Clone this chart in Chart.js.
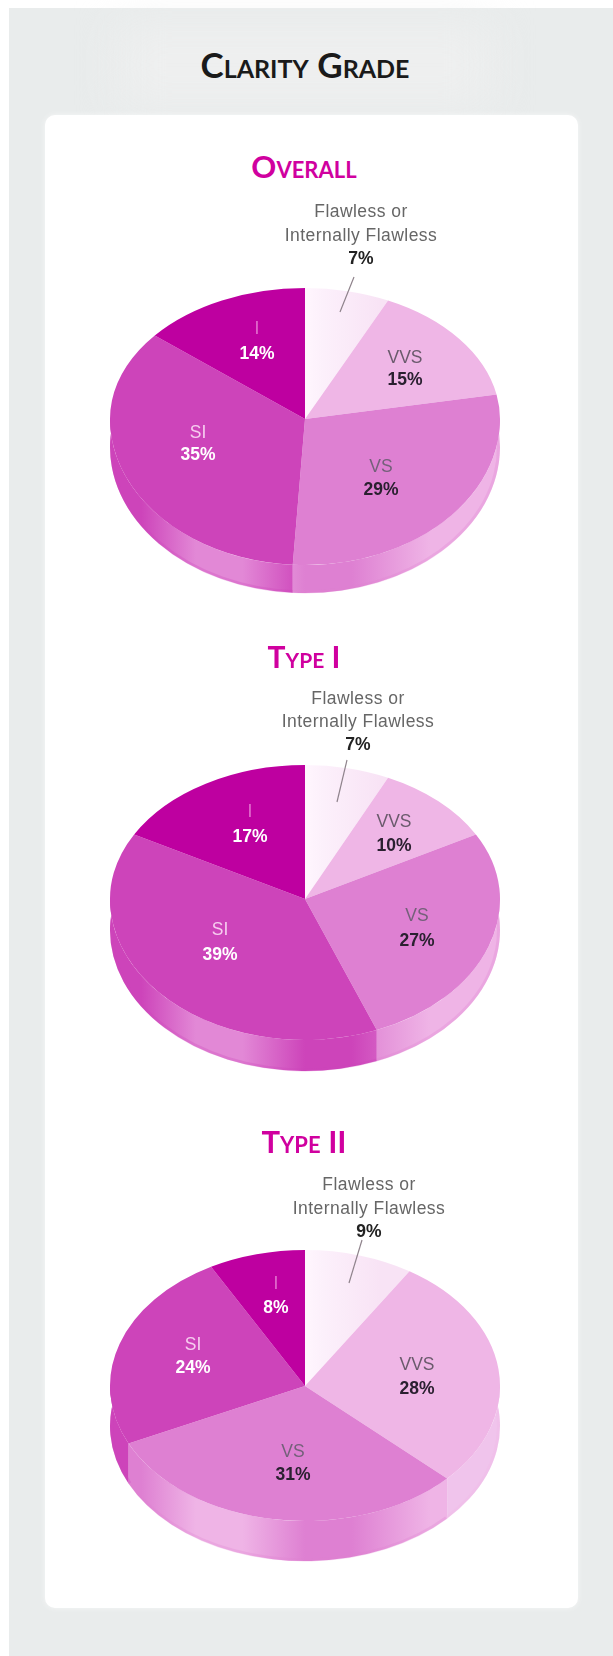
<!DOCTYPE html>
<html><head><meta charset="utf-8">
<script src="https://cdn.jsdelivr.net/npm/chart.js@4/dist/chart.umd.min.js"></script>
<style>
html,body{margin:0;padding:0;background:#fff;}
#page{position:relative;width:613px;height:1656px;overflow:hidden;background:#fff;font-family:"Liberation Sans",Arial,sans-serif;filter:blur(0.6px);}
#panel{position:absolute;left:9px;top:8px;right:-4px;bottom:-4px;background:#e9ecec;}
#glow{position:absolute;left:120px;top:25px;width:370px;height:80px;background:#eeefef;filter:blur(22px);}
#card{position:absolute;left:45px;top:115px;width:533px;height:1493px;background:#fff;border-radius:10px;box-shadow:0 0 5px #f6f7f7;}
canvas{position:absolute;}
.t{position:absolute;transform:translate(-50%,-50%);white-space:nowrap;text-align:center;line-height:1;}
.head{font-family:"Lato",sans-serif;font-weight:700;font-variant:small-caps;}
.name{font-size:17.5px;}
.pct{font-size:17.5px;font-weight:700;}
</style></head><body>
<div id="page">
<div id="panel"></div><div id="glow"></div><div id="card"></div>
</div>
<script>
// ---- data ----
const pageTitle = "Clarity Grade";
const categories = ["Flawless or Internally Flawless", "VVS", "VS", "SI", "I"];
const chartTitles = ["Overall", "Type I", "Type II"];
const overallValues = [7, 15, 29, 35, 14];
const typeOneValues = [7, 10, 27, 39, 17];
const typeTwoValues = [9, 28, 31, 24, 8];

// ---- styles ----
const topColors  = ["#fbecf9", "#efb6e6", "#de80d2", "#cd44ba", "#be00a0"];
const sideLight  = ["#fbeef9", "#f0c4ec", "#efb4e6", "#e288d6", "#d050bb"];
const nameColors = ["#666", "#6a5a6c", "#74607a", "#f6cdef", "#e26fce"];
const pctColors  = ["#222", "#2a2030", "#2a2030", "#fff", "#fff"];
const R = 195, PAD = 5, SIZE = 2*(R+PAD);

// ---- layout of the three pies (centre, back/front half-heights, extrusion) ----
const pies = [
 {values:overallValues, cy:419, back:131, front:146, depth:28, title:[304,166], titleSize:31,
  lead:[354,277,340,312],
  fl:[361,212,236,259],
  pos:{1:[405,358,380],2:[381,467,490],3:[198,433,455],4:[257,329,354]}},
 {values:typeOneValues, cy:899, back:134, front:141, depth:31, title:[304,656], titleSize:30,
  lead:[347,760,337,802],
  fl:[358,699,722,745],
  pos:{1:[394,822,846],2:[417,916,941],3:[220,930,955],4:[250,812,837]}},
 {values:typeTwoValues, cy:1386, back:136, front:135, depth:40, title:[304,1141], titleSize:31,
  lead:[362,1240,349,1283],
  fl:[369,1185,1209,1232],
  pos:{1:[417,1365,1389],2:[293,1452,1475],3:[193,1345,1368],4:[276,1284,1308]}}
];
const CX = 305;

const page = document.getElementById('page');
function addText(txt,x,y,cls,color,extra){
  const d=document.createElement('div');
  d.className='t '+cls; d.textContent=txt;
  d.style.left=x+'px'; d.style.top=y+'px'; d.style.color=color;
  if(extra) Object.assign(d.style,extra);
  page.appendChild(d);
}
addText(pageTitle,305,64,'head','#1a1a1a',{fontSize:'35px'});

const pie3d = {
  id:'pie3d',
  beforeDatasetsDraw(chart,args,opts){
    const {ctx}=chart, arcs=chart.getDatasetMeta(0).data, p=opts.p;
    const k=p.front/R, a0=arcs[0];
    // extruded wall: only visible below the centre line
    ctx.save();
    ctx.beginPath(); ctx.rect(0,a0.y,chart.width,chart.height-a0.y); ctx.clip();
    arcs.forEach((a,i)=>{
      const {x,y,outerRadius:r,startAngle:s,endAngle:e}=a.getProps(['x','y','outerRadius','startAngle','endAngle'],true);
      const g=ctx.createLinearGradient(x-r,0,x+r,0);
      g.addColorStop(0,topColors[i]); g.addColorStop(.08,topColors[i]);
      g.addColorStop(.22,sideLight[i]); g.addColorStop(.34,sideLight[i]);
      g.addColorStop(.5,topColors[i]); g.addColorStop(.62,topColors[i]);
      g.addColorStop(.82,sideLight[i]); g.addColorStop(1,sideLight[i]);
      ctx.beginPath();
      ctx.save(); ctx.translate(x,y+p.depth); ctx.scale(1,k); ctx.arc(0,0,r,s,e); ctx.restore();
      ctx.save(); ctx.translate(x,y); ctx.scale(1,k); ctx.arc(0,0,r,e,s,true); ctx.restore();
      ctx.closePath();
      ctx.fillStyle=g; ctx.fill();
      // soft darker rim along the lower edge
      ctx.beginPath();
      ctx.save(); ctx.translate(x,y+p.depth); ctx.scale(1,k); ctx.arc(0,0,r-1.5,s,e); ctx.restore();
      ctx.strokeStyle=topColors[i]; ctx.globalAlpha=.28; ctx.lineWidth=3; ctx.stroke(); ctx.globalAlpha=1;
    });
    ctx.restore();
    // upper half of the top face
    ctx.save();
    ctx.beginPath(); ctx.rect(0,0,chart.width,a0.y); ctx.clip();
    ctx.translate(a0.x,a0.y); ctx.scale(1,p.back/R); ctx.translate(-a0.x,-a0.y);
  },
  afterDatasetsDraw(chart,args,opts){
    const {ctx}=chart, meta=chart.getDatasetMeta(0), a0=meta.data[0], p=opts.p;
    ctx.restore();
    // lower half of the top face, library draw again
    ctx.save();
    ctx.beginPath(); ctx.rect(0,a0.y,chart.width,chart.height-a0.y); ctx.clip();
    ctx.translate(a0.x,a0.y); ctx.scale(1,p.front/R); ctx.translate(-a0.x,-a0.y);
    meta.controller.draw();
    ctx.restore();
  }
};

pies.forEach((p,n)=>{
  const c=document.createElement('canvas');
  c.style.left=(CX-SIZE/2)+'px'; c.style.top=(p.cy-SIZE/2)+'px';
  c.style.width=SIZE+'px'; c.style.height=SIZE+'px';
  c.width=SIZE; c.height=SIZE;
  page.appendChild(c);
  // the palest slice fades towards white on its left side
  const fade=c.getContext('2d').createLinearGradient(SIZE/2,0,SIZE/2+75,0);
  fade.addColorStop(0,'#fff6fe'); fade.addColorStop(.25,'#fcf0fb'); fade.addColorStop(1,'#f8e3f5');
  const fills=topColors.slice(); fills[0]=fade;
  new Chart(c,{
    type:'pie',
    data:{labels:categories,datasets:[{data:p.values,backgroundColor:fills,borderWidth:0,hoverOffset:0}]},
    options:{responsive:false,animation:false,rotation:0,
      layout:{padding:PAD},
      plugins:{legend:{display:false},tooltip:{enabled:false},pie3d:{p}}},
    plugins:[pie3d]
  });
  addText(chartTitles[n],p.title[0],p.title[1],'head','#d0009f',{fontSize:p.titleSize+'px'});
  // leader
  const ns='http://www.w3.org/2000/svg';
  const s=document.createElementNS(ns,'svg');
  s.setAttribute('width',613);s.setAttribute('height',1656);
  s.style.position='absolute';s.style.left=0;s.style.top=0;
  const l=document.createElementNS(ns,'line');
  l.setAttribute('x1',p.lead[0]);l.setAttribute('y1',p.lead[1]);l.setAttribute('x2',p.lead[2]);l.setAttribute('y2',p.lead[3]);
  l.setAttribute('stroke','#8f838c');l.setAttribute('stroke-width','1.2');
  s.appendChild(l);page.appendChild(s);
  // flawless label
  const f=p.fl, wide={letterSpacing:'0.45px'};
  addText("Flawless or",f[0],f[1],'name',nameColors[0],wide);
  addText("Internally Flawless",f[0],f[2],'name',nameColors[0],wide);
  addText(p.values[0]+"%",f[0],f[3],'pct',pctColors[0]);
  // other labels
  for(const i of [1,2,3,4]){
    const q=p.pos[i];
    addText(categories[i],q[0],q[1],'name',nameColors[i]);
    addText(p.values[i]+"%",q[0],q[2],'pct',pctColors[i]);
  }
});
</script>
</body></html>
